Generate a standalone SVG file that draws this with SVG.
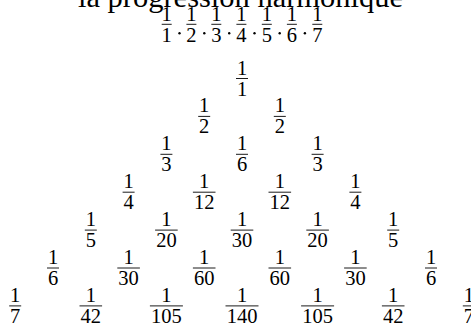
<svg xmlns="http://www.w3.org/2000/svg" width="471" height="323" viewBox="0 0 471 323">
<style>
text{font-family:"Liberation Serif","Times New Roman",serif;fill:#000;text-anchor:middle}
.f text{font-size:20.5px}
.bar{stroke:#000;stroke-width:0.9}
.dot{fill:#000}
</style>
<rect width="471" height="323" fill="#fff"/>
<g id="title"><text x="240.5" y="7" font-size="29" textLength="325" lengthAdjust="spacingAndGlyphs">la progression harmonique</text></g>
<g id="product" class="f">
<g transform="translate(166.7,24.3)"><text y="-3.6">1</text><line class="bar" x1="-5" x2="5"/><text y="18">1</text></g>
<g transform="translate(191.4,24.3)"><text y="-3.6">1</text><line class="bar" x1="-5" x2="5"/><text y="18">2</text></g>
<g transform="translate(216.3,24.3)"><text y="-3.6">1</text><line class="bar" x1="-5" x2="5"/><text y="18">3</text></g>
<g transform="translate(241.4,24.3)"><text y="-3.6">1</text><line class="bar" x1="-5" x2="5"/><text y="18">4</text></g>
<g transform="translate(266.8,24.3)"><text y="-3.6">1</text><line class="bar" x1="-5" x2="5"/><text y="18">5</text></g>
<g transform="translate(291.9,24.3)"><text y="-3.6">1</text><line class="bar" x1="-5" x2="5"/><text y="18">6</text></g>
<g transform="translate(317.3,24.3)"><text y="-3.6">1</text><line class="bar" x1="-5" x2="5"/><text y="18">7</text></g>
<circle class="dot" cx="179.5" cy="33.3" r="1.2"/>
<circle class="dot" cx="204.3" cy="33.3" r="1.2"/>
<circle class="dot" cx="229.2" cy="33.3" r="1.2"/>
<circle class="dot" cx="254.5" cy="33.3" r="1.2"/>
<circle class="dot" cx="279.7" cy="33.3" r="1.2"/>
<circle class="dot" cx="304.9" cy="33.3" r="1.2"/>
</g>
<g id="triangle" class="f">
<g id="r0k0" transform="translate(242,78.5)"><text y="-4">1</text><line class="bar" x1="-6" x2="6"/><text y="17">1</text></g>
<g id="r1k0" transform="translate(204.2,116.4)"><text y="-4">1</text><line class="bar" x1="-6" x2="6"/><text y="17">2</text></g>
<g id="r1k1" transform="translate(279.8,116.4)"><text y="-4">1</text><line class="bar" x1="-6" x2="6"/><text y="17">2</text></g>
<g id="r2k0" transform="translate(166.4,154.3)"><text y="-4">1</text><line class="bar" x1="-6" x2="6"/><text y="17">3</text></g>
<g id="r2k1" transform="translate(242,154.3)"><text y="-4">1</text><line class="bar" x1="-6" x2="6"/><text y="17">6</text></g>
<g id="r2k2" transform="translate(317.6,154.3)"><text y="-4">1</text><line class="bar" x1="-6" x2="6"/><text y="17">3</text></g>
<g id="r3k0" transform="translate(128.6,192.2)"><text y="-4">1</text><line class="bar" x1="-6" x2="6"/><text y="17">4</text></g>
<g id="r3k1" transform="translate(204.2,192.2)"><text y="-4">1</text><line class="bar" x1="-11.3" x2="11.3"/><text y="17">12</text></g>
<g id="r3k2" transform="translate(279.8,192.2)"><text y="-4">1</text><line class="bar" x1="-11.3" x2="11.3"/><text y="17">12</text></g>
<g id="r3k3" transform="translate(355.4,192.2)"><text y="-4">1</text><line class="bar" x1="-6" x2="6"/><text y="17">4</text></g>
<g id="r4k0" transform="translate(90.8,230.1)"><text y="-4">1</text><line class="bar" x1="-6" x2="6"/><text y="17">5</text></g>
<g id="r4k1" transform="translate(166.4,230.1)"><text y="-4">1</text><line class="bar" x1="-11.3" x2="11.3"/><text y="17">20</text></g>
<g id="r4k2" transform="translate(242,230.1)"><text y="-4">1</text><line class="bar" x1="-11.3" x2="11.3"/><text y="17">30</text></g>
<g id="r4k3" transform="translate(317.6,230.1)"><text y="-4">1</text><line class="bar" x1="-11.3" x2="11.3"/><text y="17">20</text></g>
<g id="r4k4" transform="translate(393.2,230.1)"><text y="-4">1</text><line class="bar" x1="-6" x2="6"/><text y="17">5</text></g>
<g id="r5k0" transform="translate(53,268)"><text y="-4">1</text><line class="bar" x1="-6" x2="6"/><text y="17">6</text></g>
<g id="r5k1" transform="translate(128.6,268)"><text y="-4">1</text><line class="bar" x1="-11.3" x2="11.3"/><text y="17">30</text></g>
<g id="r5k2" transform="translate(204.2,268)"><text y="-4">1</text><line class="bar" x1="-11.3" x2="11.3"/><text y="17">60</text></g>
<g id="r5k3" transform="translate(279.8,268)"><text y="-4">1</text><line class="bar" x1="-11.3" x2="11.3"/><text y="17">60</text></g>
<g id="r5k4" transform="translate(355.4,268)"><text y="-4">1</text><line class="bar" x1="-11.3" x2="11.3"/><text y="17">30</text></g>
<g id="r5k5" transform="translate(431,268)"><text y="-4">1</text><line class="bar" x1="-6" x2="6"/><text y="17">6</text></g>
<g id="r6k0" transform="translate(15.2,305.9)"><text y="-4">1</text><line class="bar" x1="-6" x2="6"/><text y="17">7</text></g>
<g id="r6k1" transform="translate(90.8,305.9)"><text y="-4">1</text><line class="bar" x1="-11.3" x2="11.3"/><text y="17">42</text></g>
<g id="r6k2" transform="translate(166.4,305.9)"><text y="-4">1</text><line class="bar" x1="-16.5" x2="16.5"/><text y="17">105</text></g>
<g id="r6k3" transform="translate(242,305.9)"><text y="-4">1</text><line class="bar" x1="-16.5" x2="16.5"/><text y="17">140</text></g>
<g id="r6k4" transform="translate(317.6,305.9)"><text y="-4">1</text><line class="bar" x1="-16.5" x2="16.5"/><text y="17">105</text></g>
<g id="r6k5" transform="translate(393.2,305.9)"><text y="-4">1</text><line class="bar" x1="-11.3" x2="11.3"/><text y="17">42</text></g>
<g id="r6k6" transform="translate(468.8,305.9)"><text y="-4">1</text><line class="bar" x1="-6" x2="6"/><text y="17">7</text></g>
</g>
</svg>
